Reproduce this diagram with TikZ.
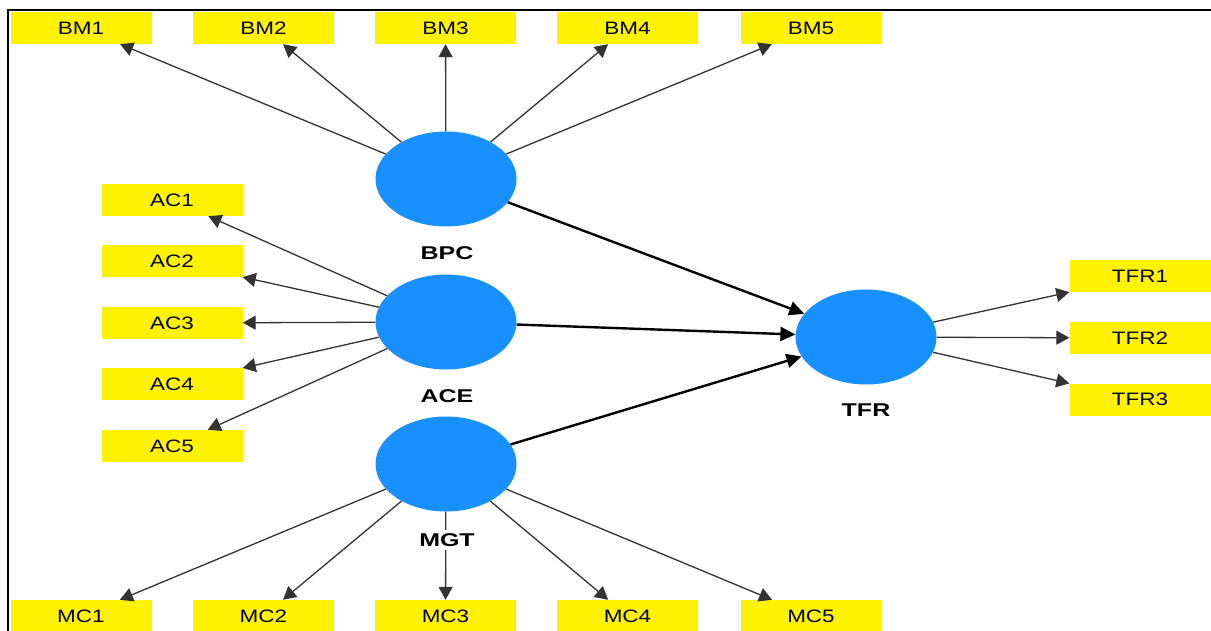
\documentclass[tikz,border=0pt]{standalone}
\usepackage{fontspec}
\setmainfont{Liberation Sans}
\newfontfamily\indfont[FakeStretch=1.25]{Liberation Sans}
\newfontfamily\lvfont[FakeStretch=1.35]{Liberation Sans}
\usetikzlibrary{arrows.meta,shapes.geometric}
\definecolor{lvblue}{RGB}{24,144,255}
\begin{document}
\begin{tikzpicture}[x=1pt,y=-1pt,
  ind/.style={fill=yellow, minimum width=141pt, minimum height=32pt, inner sep=0pt, font=\indfont\fontsize{18}{18}\selectfont},
  lv/.style={ellipse, fill=lvblue, minimum width=141pt, minimum height=95pt, inner sep=0pt},
  lvlab/.style={font=\lvfont\bfseries\fontsize{18.5}{18.5}\selectfont, fill=white, inner sep=3pt},
  thin/.style={draw=black!80, line width=1.3pt, -{Triangle[length=13pt,width=14pt]}},
  thick/.style={draw=black, line width=2.4pt, -{Triangle[length=15pt,width=14pt]}}]
\useasboundingbox (0,0) rectangle (1211,631);
\fill[white] (0,0) rectangle (1211,631);
\draw[line width=2pt] (7.5,631) -- (7.5,10) -- (1211,10);
% indicators
\node[ind] (BM1) at (81,28) {BM1};
\node[ind] (BM2) at (263.5,28) {BM2};
\node[ind] (BM3) at (445.5,28) {BM3};
\node[ind] (BM4) at (627.5,28) {BM4};
\node[ind] (BM5) at (811,28) {BM5};
\node[ind] (MC1) at (81,616) {MC1};
\node[ind] (MC2) at (263.5,616) {MC2};
\node[ind] (MC3) at (445.5,616) {MC3};
\node[ind] (MC4) at (627.5,616) {MC4};
\node[ind] (MC5) at (811,616) {MC5};
\node[ind] (AC1) at (172,200) {AC1};
\node[ind] (AC2) at (172,261.5) {AC2};
\node[ind] (AC3) at (172,323) {AC3};
\node[ind] (AC4) at (172,384) {AC4};
\node[ind] (AC5) at (172,446) {AC5};
\node[ind] (TFR1) at (1140,276.5) {TFR1};
\node[ind] (TFR2) at (1140,338) {TFR2};
\node[ind] (TFR3) at (1140,399.5) {TFR3};
% latent variables
\node[lv] (BPC) at (446,179) {};
\node[lv] (ACE) at (446,322) {};
\node[lv] (MGT) at (446,464) {};
\node[lv] (TFR) at (866,337) {};
% edges
\foreach \i in {1,...,5} {
  \draw[thin] (BPC) -- (BM\i);
  \draw[thin] (ACE) -- (AC\i);
  \draw[thin] (MGT) -- (MC\i);
}
\foreach \i in {1,2,3} {
  \draw[thin] (TFR) -- (TFR\i);
}
\draw[thick] (BPC) -- (TFR);
\draw[thick] (ACE) -- (TFR);
\draw[thick] (MGT) -- (TFR);
% labels
\node[lvlab] (lBPC) at (447,253) {BPC};
\node[lvlab] (lACE) at (447,396) {ACE};
\node[lvlab] (lMGT) at (447,540) {MGT};
\node[lvlab] (lTFR) at (866,410) {TFR};
\end{tikzpicture}
\end{document}
